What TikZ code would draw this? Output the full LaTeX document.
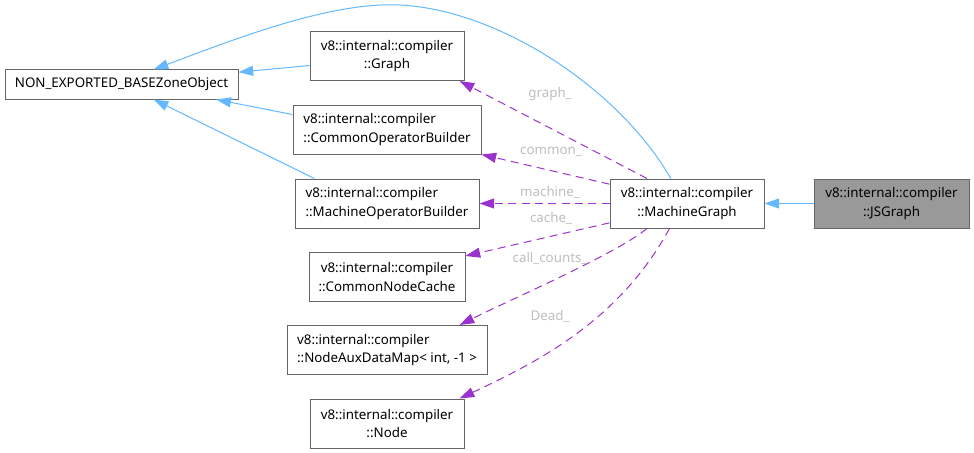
\documentclass[tikz,border=0pt]{standalone}
\usepackage{fontspec}
\setmainfont{Noto Sans}
\usetikzlibrary{arrows.meta}
\definecolor{edgeblue}{HTML}{63B8FF}
\definecolor{edgepurple}{HTML}{9A32CD}
\definecolor{boxgray}{HTML}{666666}
\definecolor{leafgray}{HTML}{999999}
\definecolor{labelgray}{HTML}{BEBEBE}
\begin{document}
\begin{tikzpicture}[x=0.75pt,y=-0.75pt,>={Triangle[length=11pt,width=7.5pt]},
    font=\fontsize{10}{13.75}\selectfont,
    cls/.style={draw=boxgray,line width=0.75pt,fill=white,inner sep=2pt,
        minimum height=36.75pt},
    inh/.style={->,edgeblue,line width=0.75pt},
    member/.style={->,edgepurple,line width=0.75pt,dash pattern=on 6pt off 4pt},
    lbl/.style={text=labelgray,inner sep=1pt}]
        \def\px{0.75pt}
        \useasboundingbox (0,0) rectangle (974,453);

        % Classes.
        \node[cls,minimum height=29*\px,minimum width=233*\px] (base)
            at (121.5,84.5) {NON\_EXPORTED\_BASEZoneObject};
        \node[cls,align=center,minimum width=154*\px] (graph) at (387,56)
            {v8::internal::compiler\\::Graph};
        \node[cls,align=left,minimum width=188*\px] (common) at (387,129.5)
            {v8::internal::compiler\\::CommonOperatorBuilder};
        \node[cls,align=left,minimum width=184*\px] (machineop) at (387,203.5)
            {v8::internal::compiler\\::MachineOperatorBuilder};
        \node[cls,align=center,minimum width=156*\px] (cache) at (387,277)
            {v8::internal::compiler\\::CommonNodeCache};
        \node[cls,align=left,minimum width=200*\px] (auxmap) at (387,350)
            {v8::internal::compiler\\::NodeAuxDataMap< int, -1 >};
        \node[cls,align=center,minimum width=154*\px] (nodebox) at (387,423.5)
            {v8::internal::compiler\\::Node};
        \node[cls,align=center,minimum width=154*\px] (mg) at (687,203.5)
            {v8::internal::compiler\\::MachineGraph};
        \node[cls,align=center,fill=leafgray,minimum width=155*\px] (js)
            at (891.5,203.5) {v8::internal::compiler\\::JSGraph};

        % Inheritance.
        \coordinate (archtop) at (400,5);
        \draw[inh] (js) -- (mg);
        \draw[inh] (graph.187) -- (base.6);
        \draw[inh] (common.171) -- (base.351);
        \draw[inh] (machineop.161) -- (base.335);
        \draw[inh] (mg.123) .. controls +(-51,-89) and +(100,5) .. (archtop)
            .. controls +(-70,-3.5) and +(80,-30) .. (base.25);

        % Members of MachineGraph.
        \draw[member] (mg.148) -- (graph.341);
        \draw[member] (mg.166) -- (common.south east);
        \draw[member] (mg.west) -- (machineop.east);
        \draw[member] (mg.194) -- (cache.15);
        \draw[member] (mg.212) .. controls +(-30,25) and +(50,-25) .. (auxmap.19);
        \draw[member] (mg.235) .. controls +(-50,92) and +(79,-37) .. (nodebox.19);

        \node[lbl] (lgraph) at (550,94) {graph\_};
        \node[lbl] (lcommon) at (551,152) {common\_};
        \node[lbl] (lmachine) at (550,192) {machine\_};
        \node[lbl] (lcache) at (551,218) {cache\_};
        \node[lbl] (lcalls) at (550,258) {call\_counts\_};
        \node[lbl] (ldead) at (550,316) {Dead\_};
    \end{tikzpicture}
\end{document}
